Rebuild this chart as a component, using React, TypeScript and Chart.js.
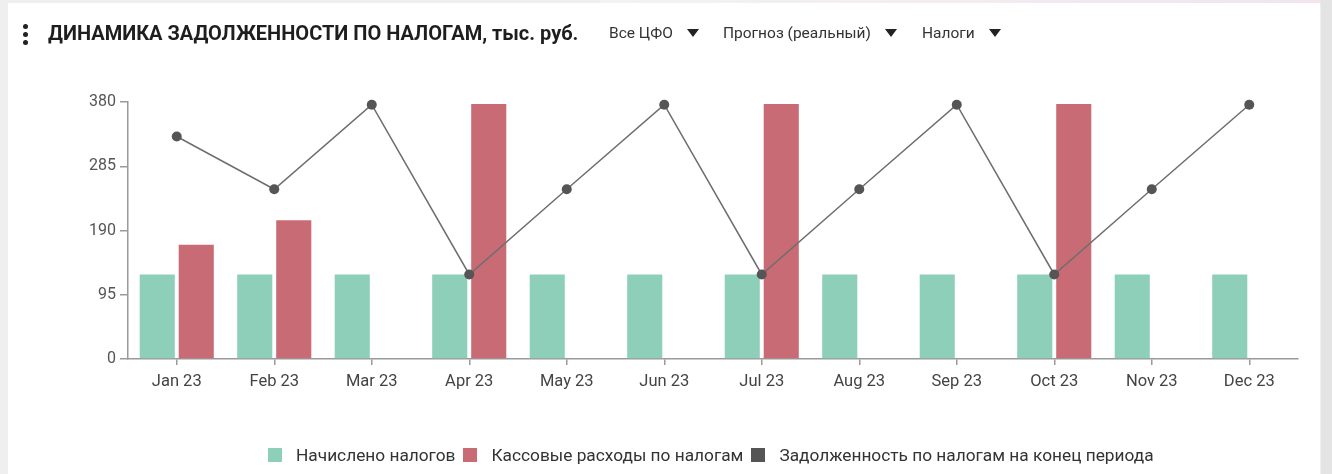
import React, { useEffect, useRef } from "react";
import { Chart, registerables } from "chart.js";

Chart.register(...registerables);

const categories = ["Jan 23", "Feb 23", "Mar 23", "Apr 23", "May 23", "Jun 23", "Jul 23", "Aug 23", "Sep 23", "Oct 23", "Nov 23", "Dec 23"];
const accrued = [125, 125, 125, 125, 125, 125, 125, 125, 125, 125, 125, 125];
const cashPaid = [169, 205, null, 377, null, null, 377, null, null, 377, null, null];
const debtEnd = [329, 251, 376, 125, 251, 376, 125, 251, 376, 125, 251, 376];
const yTicks = [0, 95, 190, 285, 380];

const seriesNames = ["Начислено налогов", "Кассовые расходы по налогам", "Задолженность по налогам на конец периода"];
const seriesColors = ["#8dcfb9", "#c96b74", "#555555"];
const filters = ["Все ЦФО", "Прогноз (реальный)", "Налоги"];

const FONT = "Roboto, 'Noto Sans', sans-serif";

export default function App() {
  const ref = useRef<HTMLCanvasElement | null>(null);

  useEffect(() => {
    if (!ref.current) return;
    const chart = new Chart(ref.current, {
      type: "bar",
      data: {
        labels: categories,
        datasets: [
          {
            type: "line",
            label: seriesNames[2],
            data: debtEnd,
            borderColor: "#6e6e6e",
            borderWidth: 1.5,
            pointRadius: 5,
            pointBackgroundColor: seriesColors[2],
            pointBorderWidth: 0,
            tension: 0,
            clip: false,
            order: 0,
          } as any,
          {
            label: seriesNames[0],
            data: accrued,
            backgroundColor: seriesColors[0],
            barPercentage: 0.9,
            categoryPercentage: 0.8,
            order: 1,
          },
          {
            label: seriesNames[1],
            data: cashPaid,
            backgroundColor: seriesColors[1],
            barPercentage: 0.9,
            categoryPercentage: 0.8,
            order: 1,
          },
        ],
      },
      options: {
        animation: false,
        responsive: false,
        maintainAspectRatio: false,
        layout: { padding: { left: 0, right: 34, top: 102, bottom: 75 } },
        plugins: { legend: { display: false }, tooltip: { enabled: false } },
        scales: {
          x: {
            offset: true,
            grid: { offset: false, drawOnChartArea: false, drawTicks: true, tickLength: 6, color: "#9a9a9a", lineWidth: 1.5 },
            border: { color: "#9a9a9a", width: 1.5 },
            ticks: { color: "#444", font: { family: FONT, size: 16.5 }, padding: 7, autoSkip: false, maxRotation: 0 },
            afterFit: (s: any) => { s.height = 40; },
          },
          y: {
            min: 0,
            max: 380,
            afterBuildTicks: (s: any) => { s.ticks = yTicks.map((v) => ({ value: v })); },
            grid: { drawOnChartArea: false, drawTicks: true, tickLength: 8, color: "#9a9a9a", lineWidth: 1.5 },
            border: { color: "#9a9a9a", width: 1.5 },
            ticks: { color: "#555", font: { family: FONT, size: 16 }, padding: 4 },
            afterFit: (s: any) => { s.width = 128; },
          },
        },
      },
    });
    return () => chart.destroy();
  }, []);

  return (
    <div style={{ position: "fixed", left: 0, top: 0, width: 1332, height: 474, background: "#efefef", overflow: "hidden", fontFamily: FONT }}>
      <div style={{ position: "absolute", left: 600, top: 0, width: 732, height: 6, background: "linear-gradient(90deg, #f3f3f3, #f1e4ee)" }} />
      <div style={{ position: "absolute", left: 1321, top: 0, width: 11, height: 474, background: "#e4e4e4" }} />
      <div style={{ position: "absolute", left: 8, top: 3, width: 1312, height: 480, background: "#ffffff" }} />
      <canvas ref={ref} width={1332} height={474} style={{ position: "absolute", left: 0, top: 0, width: 1332, height: 474 }} />
      <div style={{ position: "absolute", left: 23, top: 24, width: 6, display: "flex", flexDirection: "column", gap: 3 }}>
        {[0, 1, 2].map((i) => (
          <div key={i} style={{ width: 5, height: 5, borderRadius: 3, background: "#222" }} />
        ))}
      </div>
      <div style={{ position: "absolute", left: 48, top: 21, fontSize: 20, fontWeight: 700, color: "#1e1e1e", whiteSpace: "nowrap" }}>
        ДИНАМИКА ЗАДОЛЖЕННОСТИ ПО НАЛОГАМ, тыс. руб.
      </div>
      {filters.map((f, i) => (
        <div key={f} style={{ position: "absolute", left: [609, 723, 922][i], top: 24, fontSize: 15.5, color: "#333", whiteSpace: "nowrap", display: "flex", alignItems: "center" }}>
          <span>{f}</span>
          <span style={{ marginLeft: 14, display: "inline-block", width: 0, height: 0, borderLeft: "6px solid transparent", borderRight: "6px solid transparent", borderTop: "8px solid #222" }} />
        </div>
      ))}
      <div style={{ position: "absolute", left: 268, top: 445, display: "flex", alignItems: "center" }}>
        {seriesNames.map((n, i) => (
          <div key={n} style={{ display: "flex", alignItems: "center", marginRight: 8 }}>
            <span style={{ display: "inline-block", width: 14, height: 14, background: seriesColors[i], marginRight: 14 }} />
            <span style={{ fontSize: 17.3, color: "#333", whiteSpace: "nowrap" }}>{n}</span>
          </div>
        ))}
      </div>
    </div>
  );
}
